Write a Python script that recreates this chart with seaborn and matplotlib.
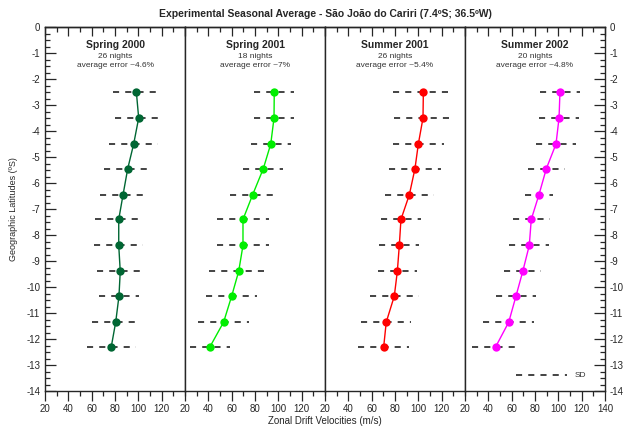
import matplotlib
matplotlib.use("Agg")
import matplotlib.pyplot as plt
from matplotlib.ticker import MultipleLocator
import seaborn as sns
import numpy as np
import pandas as pd

# latitudes of the sampled points (deg, south negative)
latitudes = [-2.5, -3.5, -4.5, -5.45, -6.45, -7.4, -8.4, -9.4, -10.35, -11.35, -12.3]

seasons = ["Spring 2000", "Spring 2001", "Summer 2001", "Summer 2002"]
nights = ["26 nights", "18 nights", "26 nights", "20 nights"]
errors = ["average error ~4.6%", "average error ~7%", "average error ~5.4%", "average error ~4.8%"]
colors = ["#006633", "#00ee00", "#ff0000", "#ff00ff"]

spring_2000 = [98.3, 100.3, 96.0, 90.9, 86.9, 83.2, 83.2, 84.5, 83.4, 80.6, 76.8]
spring_2001 = [96.5, 96.3, 93.5, 87.1, 78.0, 69.7, 69.7, 66.0, 60.0, 53.1, 41.4]
summer_2001 = [104.3, 104.0, 100.0, 97.1, 92.3, 85.1, 83.7, 82.0, 79.4, 72.5, 70.3]
summer_2002 = [101.4, 100.6, 98.0, 89.7, 83.4, 76.8, 75.1, 69.5, 63.7, 57.5, 46.3]

sd_spring_2000 = [20, 20, 21, 20, 20, 20, 21, 20, 17, 20, 21]
sd_spring_2001 = [17, 17, 17, 17, 19.5, 22, 22, 25.5, 22, 22, 17]
sd_summer_2001 = [26, 25, 22, 22, 21, 17, 17, 17, 21, 21.5, 22]
sd_summer_2002 = [17, 17, 17, 16, 12, 16, 17, 16, 17, 22, 20]

velocities = [spring_2000, spring_2001, summer_2001, summer_2002]
deviations = [sd_spring_2000, sd_spring_2001, sd_summer_2001, sd_summer_2002]

sns.set_style("ticks")
plt.rcParams["font.family"] = ["Liberation Sans", "DejaVu Sans"]
plt.rcParams["axes.unicode_minus"] = False

fig, axes = plt.subplots(1, 4, figsize=(6.23, 4.33), dpi=100, sharey=True)
fig.subplots_adjust(left=45 / 623, right=605 / 623, bottom=1 - 391 / 433, top=1 - 27 / 433, wspace=0)

dash = (0, (4, 4))

for i, ax in enumerate(axes):
    df = pd.DataFrame({"vel": velocities[i], "lat": latitudes})
    sd = np.array(deviations[i])
    vel = np.array(velocities[i])
    ax.hlines(latitudes, vel - sd, vel + sd, colors="#111111", linestyles=dash, linewidth=1.1, zorder=1)
    sns.lineplot(data=df, x="vel", y="lat", sort=False, estimator=None, ax=ax,
                 color=colors[i], marker="o", markersize=6, markeredgewidth=0, linewidth=1, zorder=3)

    ax.set_xlim(20, 140)
    ax.set_ylim(-14, 0)
    ax.set_xlabel("")
    ax.set_ylabel("")
    if i < 3:
        ax.set_xticks(range(20, 140, 20))
    else:
        ax.set_xticks(range(20, 141, 20))
    ax.xaxis.set_minor_locator(MultipleLocator(10))
    ax.tick_params(axis="x", which="major", direction="out", length=7, width=0.9, labelsize=7, pad=2)
    ax.tick_params(axis="x", which="minor", direction="out", length=3.5, width=0.9)
    ax.xaxis.set_ticks_position("bottom")

    top = ax.secondary_xaxis("top")
    top.set_xticks(range(20, 141, 20))
    top.xaxis.set_minor_locator(MultipleLocator(10))
    top.tick_params(axis="x", which="major", direction="in", length=6.5, width=0.9, labeltop=False)
    top.tick_params(axis="x", which="minor", direction="in", length=3.5, width=0.9)
    top.spines["top"].set_linewidth(1)

    for s in ax.spines.values():
        s.set_linewidth(1)

    ax.text(80, -0.69, seasons[i], ha="center", va="center", fontsize=7.5, fontweight="bold")
    ax.text(80, -1.15, nights[i], ha="center", va="center", fontsize=6, color="#333333")
    ax.text(80, -1.47, errors[i], ha="center", va="center", fontsize=6, color="#333333")

    if i == 0:
        ax.yaxis.set_major_locator(MultipleLocator(1))
        ax.yaxis.set_minor_locator(MultipleLocator(0.25))
        ax.tick_params(axis="y", which="major", direction="in", length=8, width=0.9,
                       labelsize=7, left=True, right=False, pad=3.5)
        ax.tick_params(axis="y", which="minor", direction="in", length=3.5, width=0.9, left=True, right=False)
    elif i == 3:
        ax.tick_params(axis="y", which="major", direction="in", length=8, width=0.9, labelsize=7,
                       left=False, right=True, labelleft=False, labelright=True, pad=3.5)
        ax.tick_params(axis="y", which="minor", direction="in", length=3.5, width=0.9,
                       left=False, right=True)
    else:
        ax.tick_params(axis="y", which="both", left=False, right=False, labelleft=False)

# SD key in the last panel
axes[3].hlines([-13.4], [63.7], [107.2], colors="#111111", linestyles=dash, linewidth=1.1)
axes[3].text(114, -13.4, "SD", ha="left", va="center", fontsize=6, color="#333333")

fig.text(325 / 623, 1 - 14 / 433, "Experimental Seasonal Average - São João do Cariri (7.4ºS; 36.5ºW)",
         ha="center", va="center", fontsize=7.5, fontweight="bold")
fig.text(325 / 623, 1 - 421 / 433, "Zonal Drift Velocities (m/s)", ha="center", va="center", fontsize=7)
fig.text(14 / 623, 1 - 209 / 433, "Geographic Latitudes (ºS)", ha="center", va="center",
         rotation=90, fontsize=6.5)

fig.savefig("out.png", dpi=100)
